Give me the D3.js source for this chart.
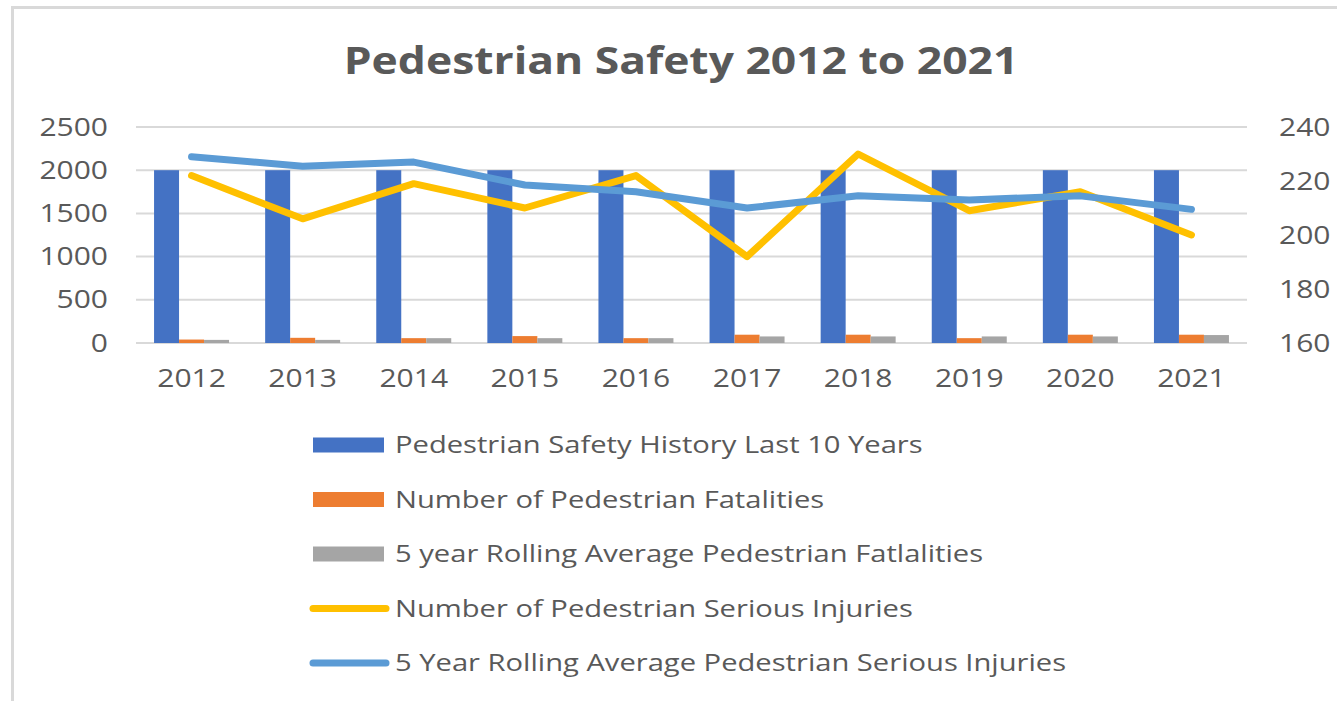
<!DOCTYPE html>
<html>
<head>
<meta charset="utf-8">
<script src="https://cdn.jsdelivr.net/npm/d3@7"></script>
<style>
  body { margin: 0; background: #fff; }
  text { font-family: "Open Sans", sans-serif; fill: #595959; }
</style>
</head>
<body>
<script>
// Data
var years = ["2012", "2013", "2014", "2015", "2016", "2017", "2018", "2019", "2020", "2021"];
var safetyHistory = [2000, 2000, 2000, 2000, 2000, 2000, 2000, 2000, 2000, 2000];
var fatalities = [40, 60, 56, 80, 56, 96, 96, 56, 96, 96];
var fatalAvg = [36, 36, 56, 56, 56, 76, 76, 76, 76, 92];
var injuries = [222, 206, 219, 210, 222, 192, 230, 209, 216, 200];
var injuryAvg = [229, 225.5, 227, 218.5, 216, 210, 214.5, 213, 214.5, 209.5];
var leftTicks = [0, 500, 1000, 1500, 2000, 2500];
var rightTicks = [160, 180, 200, 220, 240];
var seriesNames = [
  "Pedestrian Safety History Last 10 Years",
  "Number of Pedestrian Fatalities",
  "5 year Rolling Average Pedestrian Fatlalities",
  "Number of Pedestrian Serious Injuries",
  "5 Year Rolling Average Pedestrian Serious Injuries"
];
var colors = ["#4472C4", "#ED7D31", "#A5A5A5", "#FFC000", "#5B9BD5"];

var width = 1337, height = 701;
var plot = {left: 136, right: 1247, top: 127, bottom: 343};
var stretch = 1.2; // the source picture is a bit wider than tall

var svg = d3.select("body").append("svg")
    .attr("width", width)
    .attr("height", height);

// chart frame
svg.append("rect")
    .attr("x", 12.5).attr("y", 7.5)
    .attr("width", width + 20).attr("height", height + 20)
    .attr("fill", "#fff")
    .attr("stroke", "#d9d9d9")
    .attr("stroke-width", 3);

// Scales
var x = d3.scaleBand().domain(years).range([plot.left, plot.right])
    .paddingInner(0.325).paddingOuter(0.1625);
var xSub = d3.scaleBand().domain([0, 1, 2]).range([0, x.bandwidth()]);
var y = d3.scaleLinear().domain([0, 2500]).range([plot.bottom, plot.top]);
var y2 = d3.scaleLinear().domain([160, 240]).range([plot.bottom, plot.top]);

// Gridlines
svg.append("g")
    .selectAll("line")
    .data(leftTicks)
  .enter().append("line")
    .attr("x1", plot.left).attr("x2", plot.right)
    .attr("y1", function(d) { return y(d); })
    .attr("y2", function(d) { return y(d); })
    .attr("stroke", "#d9d9d9")
    .attr("stroke-width", 2);

function styleAxis(g) {
  g.select(".domain").remove();
  g.selectAll("text")
      .style("font-size", "25px")
      .attr("fill", "#595959")
      .attr("transform", "scale(" + stretch + ",1)");
}

// Left axis
svg.append("g")
    .attr("transform", "translate(108,0)")
    .call(d3.axisLeft(y).tickValues(leftTicks).tickFormat(d3.format("d")).tickSize(0).tickPadding(0))
    .call(styleAxis);

// Right axis
svg.append("g")
    .attr("transform", "translate(1279,0)")
    .call(d3.axisRight(y2).tickValues(rightTicks).tickFormat(d3.format("d")).tickSize(0).tickPadding(0))
    .call(styleAxis);

// Bottom axis
svg.append("g")
    .attr("transform", "translate(0," + (plot.bottom + 26) + ")")
    .call(d3.axisBottom(x).tickSize(0).tickPadding(0))
    .call(styleAxis);

// Bars
var barSeries = [safetyHistory, fatalities, fatalAvg];
barSeries.forEach(function(values, s) {
  svg.append("g")
      .selectAll("rect")
      .data(values)
    .enter().append("rect")
      .attr("x", function(d, i) { return x(years[i]) + xSub(s); })
      .attr("y", function(d) { return y(d); })
      .attr("width", xSub.bandwidth())
      .attr("height", function(d) { return y(0) - y(d); })
      .attr("fill", colors[s]);
});

// Lines
var line = d3.line()
    .x(function(d, i) { return x(years[i]) + x.bandwidth() / 2; })
    .y(function(d) { return y2(d); });

[injuries, injuryAvg].forEach(function(values, s) {
  svg.append("path")
      .datum(values)
      .attr("d", line)
      .attr("fill", "none")
      .attr("stroke", colors[3 + s])
      .attr("stroke-width", 7)
      .attr("stroke-linejoin", "round")
      .attr("stroke-linecap", "round");
});

// Title
svg.append("text")
    .attr("transform", "translate(681,74) scale(" + stretch + ",1)")
    .attr("text-anchor", "middle")
    .style("font-size", "37px")
    .style("font-weight", "bold")
    .text("Pedestrian Safety 2012 to 2021");

// Legend
var legend = svg.append("g");
seriesNames.forEach(function(name, i) {
  var cy = 445 + i * 54.5;
  if (i < 3) {
    legend.append("rect")
        .attr("x", 313).attr("y", cy - 7.5)
        .attr("width", 71).attr("height", 15)
        .attr("fill", colors[i]);
  } else {
    legend.append("line")
        .attr("x1", 313).attr("x2", 386)
        .attr("y1", cy).attr("y2", cy)
        .attr("stroke", colors[i])
        .attr("stroke-width", 7)
        .attr("stroke-linecap", "round");
  }
  legend.append("text")
      .attr("transform", "translate(395," + cy + ") scale(1.215,1)")
      .attr("dy", "0.35em")
      .style("font-size", "24px")
      .text(name);
});
</script>
</body>
</html>
